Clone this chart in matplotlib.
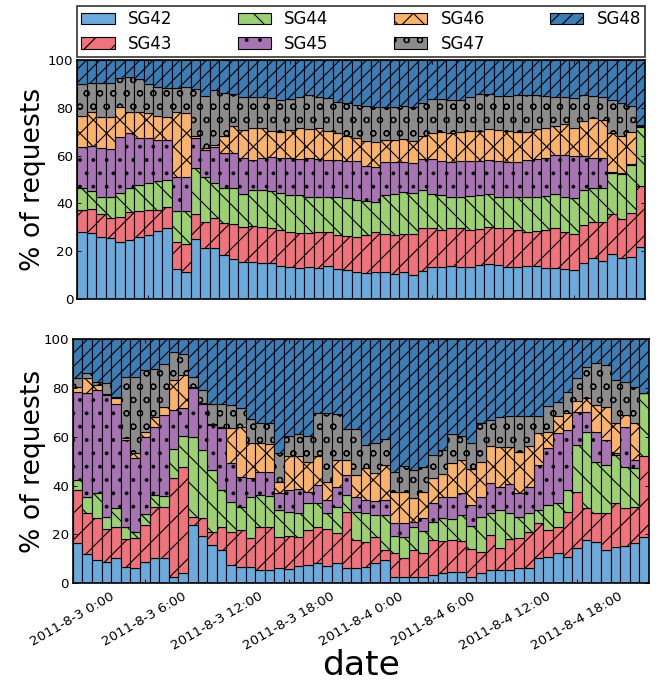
import matplotlib
matplotlib.use('Agg')
import matplotlib.pyplot as plt
import numpy as np

names = ['SG42', 'SG43', 'SG44', 'SG45', 'SG46', 'SG47', 'SG48']
colors = ['#6aaadc', '#f0727a', '#9bd170', '#a974b4', '#fbb36b', '#8c8c8c', '#3d7db6']
hatches = ['', '/', '\\', '.', 'x', 'o', '//']

tick_labels = ['2011-8-3 0:00', '2011-8-3 6:00', '2011-8-3 12:00', '2011-8-3 18:00',
               '2011-8-4 0:00', '2011-8-4 6:00', '2011-8-4 12:00', '2011-8-4 18:00']

# upper edge (cumulative %) of each group per bar; SG48 fills up to 100
up_sg42 = [27.9, 27.5, 26.1, 25.4, 24.0, 24.7, 26.1, 26.8, 28.6, 29.8, 12.4, 11.4, 25.0, 21.5, 21.2, 18.4, 16.6, 15.6, 15.3, 14.9,
           14.9, 13.9, 13.5, 12.8, 13.5, 13.1, 13.9, 12.4, 12.1, 11.4, 10.7, 11.4, 11.2, 10.6, 11.4, 10.0, 11.7, 13.2, 13.2, 13.8,
           13.5, 13.5, 14.2, 14.5, 14.2, 13.2, 13.5, 13.8, 13.8, 12.8, 12.8, 12.5, 12.1, 14.9, 17.0, 15.9, 18.7, 17.3, 17.7, 21.9]
up_sg43 = [37.2, 37.5, 35.4, 34.0, 34.2, 36.5, 36.8, 37.2, 37.2, 38.6, 24.0, 22.9, 35.4, 32.4, 33.8, 31.9, 31.4, 30.3, 30.7, 30.3,
           29.8, 28.9, 28.2, 27.5, 27.5, 28.2, 28.2, 26.8, 26.4, 26.1, 26.8, 28.2, 27.1, 26.8, 27.1, 27.1, 29.8, 29.6, 28.9, 29.6,
           29.6, 28.9, 29.3, 30.3, 29.6, 29.6, 28.9, 28.2, 28.5, 28.9, 29.6, 28.2, 27.2, 31.0, 32.4, 32.4, 35.4, 33.3, 35.8, 47.3]
up_sg44 = [46.3, 45.2, 42.8, 42.8, 44.2, 46.3, 47.7, 48.4, 49.5, 49.8, 36.8, 37.0, 54.7, 51.2, 48.4, 46.6, 46.3, 43.8, 45.6, 45.6,
           45.2, 44.2, 43.5, 43.5, 42.8, 42.8, 42.8, 42.8, 42.4, 41.4, 41.1, 40.7, 43.5, 43.8, 44.9, 44.2, 45.6, 43.8, 43.5, 42.8,
           42.8, 43.2, 43.5, 43.8, 42.8, 42.8, 42.8, 42.8, 42.8, 43.2, 43.8, 42.8, 42.4, 45.6, 46.3, 46.3, 52.6, 52.2, 56.1, 72.1]
up_sg45 = [63.7, 64.2, 63.0, 62.8, 67.9, 69.3, 67.5, 67.5, 66.5, 66.5, 51.2, 51.2, 67.2, 62.3, 63.7, 60.9, 60.9, 58.9, 58.2, 58.9,
           59.6, 58.9, 58.9, 58.4, 58.9, 58.4, 58.2, 58.2, 57.7, 57.7, 55.8, 55.4, 57.5, 57.5, 57.5, 56.8, 58.6, 58.6, 57.7, 57.5,
           57.7, 57.7, 57.7, 58.2, 57.7, 57.2, 57.2, 58.2, 58.4, 59.1, 60.3, 60.3, 60.0, 60.0, 58.9, 58.9, 53.0, 52.6, 56.3, 72.4]
up_sg46 = [76.6, 78.1, 76.3, 76.3, 80.5, 78.4, 78.1, 77.7, 76.6, 76.3, 78.4, 77.7, 68.2, 63.0, 64.4, 68.3, 72.5, 70.7, 71.4, 71.4,
           70.3, 70.0, 70.7, 71.4, 71.1, 71.4, 70.3, 69.3, 68.1, 67.5, 66.1, 65.6, 66.5, 66.5, 67.0, 66.1, 68.2, 69.3, 70.0, 69.3,
           69.7, 70.3, 70.3, 71.1, 70.7, 70.3, 69.7, 69.7, 71.1, 71.4, 72.5, 73.1, 71.4, 74.5, 75.6, 74.9, 69.3, 68.3, 69.7, 72.5]
up_sg47 = [89.8, 90.2, 90.2, 90.2, 92.6, 93.0, 92.0, 89.8, 88.6, 88.1, 88.4, 88.8, 87.7, 84.9, 87.4, 86.0, 85.6, 84.7, 84.7, 84.4,
           84.0, 83.3, 83.7, 84.7, 85.4, 84.7, 84.0, 82.6, 81.9, 81.2, 80.9, 80.5, 80.5, 80.5, 80.8, 80.5, 81.9, 83.5, 83.5, 83.3,
           83.3, 84.7, 85.6, 85.6, 85.1, 85.1, 85.4, 85.4, 85.4, 85.1, 84.7, 84.7, 84.0, 85.4, 85.1, 84.7, 83.3, 81.9, 80.9, 72.8]

lo_sg42 = [16.6, 11.9, 9.6, 8.9, 10.5, 6.5, 6.1, 8.9, 10.5, 10.5, 2.7, 4.4, 23.9, 19.5, 15.7, 13.6, 7.5, 6.5, 6.5, 5.5,
           5.5, 6.1, 5.7, 7.1, 7.5, 8.2, 7.1, 8.2, 6.1, 6.1, 6.8, 8.2, 9.6, 2.7, 2.7, 2.7, 2.7, 3.4, 4.1, 4.8,
           4.8, 2.7, 4.4, 5.5, 5.5, 5.5, 6.1, 6.1, 10.2, 10.9, 12.3, 10.9, 14.3, 17.7, 17.1, 13.6, 15.0, 15.3, 16.4, 19.1]
lo_sg43 = [38.2, 28.9, 26.6, 22.1, 23.2, 18.0, 18.4, 23.9, 31.4, 31.4, 43.2, 47.8, 27.3, 26.6, 21.1, 23.2, 21.1, 21.8, 18.4, 23.2,
           22.9, 19.1, 19.4, 19.1, 21.8, 23.2, 22.1, 20.5, 29.3, 17.7, 17.1, 18.8, 13.6, 12.3, 10.2, 13.6, 12.6, 17.7, 17.5, 17.7,
           17.5, 13.9, 13.0, 19.8, 14.3, 18.0, 18.4, 21.1, 24.6, 21.8, 23.2, 29.3, 37.5, 30.7, 28.7, 28.7, 32.7, 30.7, 31.4, 52.1]
lo_sg44 = [42.3, 35.5, 37.1, 27.3, 30.7, 23.2, 21.1, 28.4, 36.2, 35.9, 55.0, 60.3, 60.0, 54.6, 46.4, 38.2, 33.4, 31.4, 35.5, 36.2,
           35.9, 30.0, 29.3, 28.7, 32.7, 32.7, 28.9, 31.4, 36.2, 29.3, 28.7, 28.0, 28.0, 19.4, 19.1, 23.2, 21.6, 25.2, 26.6, 26.2,
           28.0, 23.5, 27.0, 28.9, 30.0, 28.9, 27.3, 28.7, 30.0, 32.1, 32.7, 38.2, 56.6, 62.1, 49.8, 48.4, 52.5, 47.8, 47.3, 77.8]
lo_sg45 = [78.4, 77.8, 79.1, 77.1, 73.4, 58.7, 51.4, 59.8, 64.1, 68.9, 70.9, 71.6, 79.8, 73.4, 64.8, 63.4, 49.1, 43.7, 43.0, 45.7,
           45.7, 36.8, 38.2, 38.5, 37.5, 40.2, 34.1, 39.6, 44.3, 35.5, 34.1, 33.8, 34.1, 24.8, 24.8, 25.2, 26.6, 32.7, 35.5, 35.5,
           36.8, 32.1, 35.5, 40.9, 39.6, 40.7, 37.1, 39.6, 48.4, 55.3, 61.4, 62.8, 70.3, 70.3, 62.1, 58.7, 53.5, 64.1, 50.5, 77.8]
lo_sg46 = [80.5, 84.2, 81.2, 77.5, 75.7, 59.3, 53.2, 62.1, 67.9, 72.3, 83.2, 85.3, 80.2, 73.7, 65.1, 64.1, 63.4, 64.1, 57.3, 57.3,
           56.9, 41.6, 52.1, 52.1, 49.8, 52.1, 41.6, 50.5, 50.5, 44.3, 47.1, 45.0, 48.4, 37.5, 37.5, 34.8, 37.2, 43.0, 44.7, 49.1,
           50.5, 46.7, 49.8, 56.2, 55.7, 55.9, 53.9, 56.2, 61.4, 62.1, 68.5, 69.6, 74.8, 75.7, 73.0, 72.3, 65.5, 68.9, 65.5, 77.8]
lo_sg47 = [83.9, 86.2, 82.5, 82.1, 76.4, 84.6, 84.6, 87.3, 87.6, 89.6, 94.8, 93.9, 84.6, 79.1, 73.4, 73.4, 73.0, 71.6, 67.1, 65.5,
           65.5, 53.2, 60.3, 61.1, 60.3, 69.6, 69.6, 69.3, 63.0, 63.0, 56.6, 57.6, 58.9, 45.7, 48.0, 46.4, 47.5, 52.5, 54.6, 61.1,
           60.3, 57.6, 65.8, 66.8, 67.9, 68.5, 68.5, 68.5, 68.5, 72.6, 74.4, 78.4, 83.9, 88.7, 90.0, 89.4, 83.2, 82.5, 80.5, 77.8]

plt.rcParams['hatch.linewidth'] = 1.0
plt.rcParams['xtick.direction'] = 'in'
plt.rcParams['ytick.direction'] = 'in'

fig = plt.figure(figsize=(662 / 80, 689 / 80), dpi=80)
ax1 = fig.add_axes([0.1168, 0.5660, 0.8576, 0.3469])
ax2 = fig.add_axes([0.1098, 0.1534, 0.8705, 0.3546])


def draw(ax, uppers):
    x = np.arange(len(uppers[0]))
    prev = np.zeros(len(x))
    levels = [np.array(u) for u in uppers] + [np.full(len(x), 100.0)]
    for lev, name, c, h in zip(levels, names, colors, hatches):
        ax.bar(x, lev - prev, bottom=prev, width=1, align='edge', color=c,
               edgecolor='black', linewidth=1.0, hatch=h, label=name)
        prev = lev
    ax.set_xlim(0, len(x))
    ax.set_ylim(0, 100)
    ax.set_yticks(range(0, 101, 20))
    # one tick every 6 hours (7.5 bars)
    ax.set_xticks(np.arange(0, 60, 7.5))
    ax.tick_params(top=True, right=True, length=4, labelsize=12)
    for s in ax.spines.values():
        s.set_linewidth(1.5)
    ax.set_ylabel('% of requests', fontsize=24)


draw(ax1, [up_sg42, up_sg43, up_sg44, up_sg45, up_sg46, up_sg47])
draw(ax2, [lo_sg42, lo_sg43, lo_sg44, lo_sg45, lo_sg46, lo_sg47])

ax1.set_xticklabels([])
ax2.set_xticklabels(tick_labels, rotation=30, ha='center', fontsize=12)
ax2.tick_params(axis='x', pad=6)

ax1.yaxis.set_label_coords(-0.055, 0.5)
ax2.yaxis.set_label_coords(-0.046, 0.5)
ax2.set_xlabel('date', fontsize=31)
ax2.xaxis.set_label_coords(0.5, -0.27)

leg = ax1.legend(bbox_to_anchor=(0, 1.0126, 1, 0.226), loc='lower left', mode='expand',
                 ncol=4, borderaxespad=0, fontsize=15, fancybox=False, handlelength=2.0,
                 labelspacing=0.4, borderpad=0.25)
leg.get_frame().set_edgecolor('black')
leg.get_frame().set_linewidth(1.5)

fig.savefig('out.png', dpi=80)
